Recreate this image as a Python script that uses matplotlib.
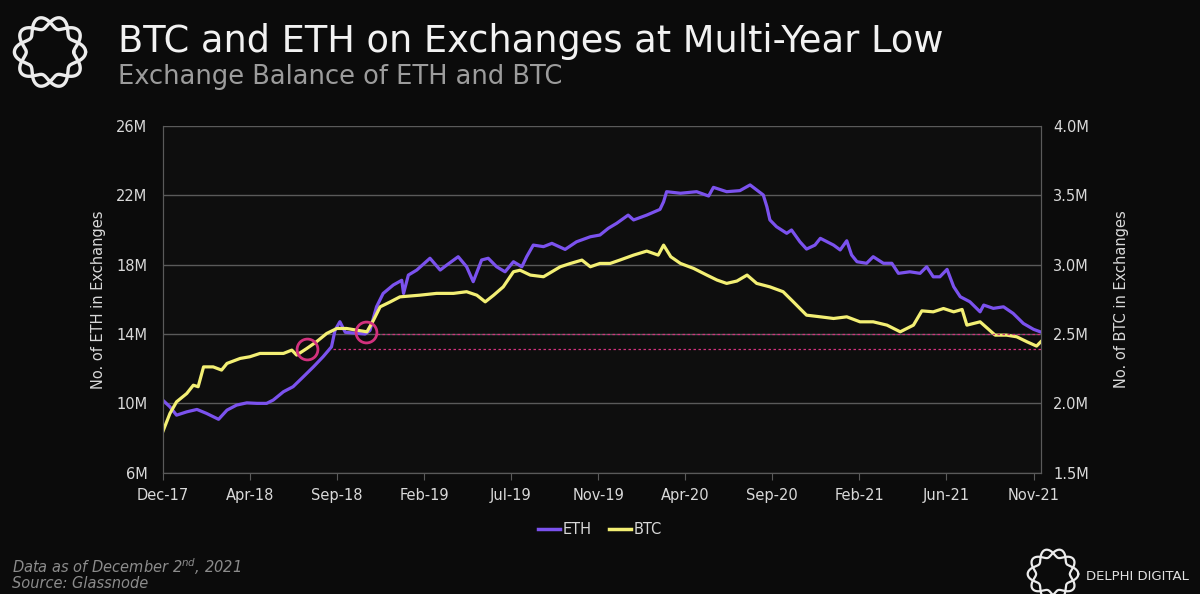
import numpy as np
import matplotlib
matplotlib.use("Agg")
import matplotlib.pyplot as plt
from matplotlib.lines import Line2D

# ---- data ----
# days since 1 Dec 2017
eth_days = [0, 12, 23, 40, 57, 73, 93, 107, 123, 140, 157, 173, 184, 201, 217, 234,
            251, 267, 281, 287, 295, 304, 320, 337, 345, 356, 367, 384, 398, 401,
            409, 423, 445, 462, 473, 492, 506, 517, 531, 542, 556, 570, 584, 598,
            606, 617, 634, 648, 670, 689, 712, 728, 742, 756, 775, 784, 806, 828,
            834, 839, 862, 889, 909, 917, 939, 961, 978, 989, 1000, 1006, 1011,
            1022, 1039, 1047, 1061, 1072, 1086, 1095, 1117, 1128, 1139, 1147, 1156,
            1172, 1183, 1200, 1214, 1225, 1244, 1261, 1272, 1283, 1294, 1306, 1317,
            1328, 1344, 1361, 1367, 1383, 1400, 1416, 1433, 1450, 1461]
eth_m = [10.19, 9.80, 9.32, 9.51, 9.65, 9.42, 9.08, 9.61, 9.90, 10.03, 10.00, 10.00,
         10.19, 10.67, 10.96, 11.53, 12.11, 12.69, 13.26, 14.23, 14.71, 14.10, 14.05,
         14.00, 14.20, 15.57, 16.34, 16.83, 17.10, 16.34, 17.40, 17.69, 18.37, 17.69,
         17.98, 18.46, 17.88, 17.02, 18.27, 18.37, 17.88, 17.59, 18.17, 17.88, 18.46,
         19.13, 19.04, 19.23, 18.88, 19.32, 19.61, 19.71, 20.10, 20.39, 20.86, 20.58,
         20.86, 21.19, 21.63, 22.21, 22.12, 22.21, 21.96, 22.46, 22.21, 22.27, 22.60,
         22.31, 22.02, 21.34, 20.58, 20.19, 19.81, 20.00, 19.32, 18.90, 19.13, 19.52,
         19.13, 18.85, 19.38, 18.56, 18.17, 18.08, 18.46, 18.08, 18.08, 17.50, 17.59,
         17.50, 17.88, 17.30, 17.30, 17.73, 16.73, 16.15, 15.86, 15.28, 15.67, 15.48,
         15.57, 15.19, 14.61, 14.27, 14.13]

btc_days = [0, 12, 23, 40, 51, 59, 68, 84, 98, 107, 129, 145, 162, 184, 201, 215, 223,
            240, 256, 273, 290, 306, 323, 340, 351, 362, 379, 395, 428, 456, 484, 506,
            523, 537, 551, 567, 584, 595, 612, 634, 662, 679, 698, 712, 728, 745, 761,
            784, 806, 825, 834, 846, 862, 884, 906, 923, 939, 956, 973, 989, 1011,
            1033, 1050, 1072, 1095, 1117, 1139, 1161, 1183, 1206, 1228, 1250, 1264,
            1283, 1300, 1317, 1331, 1339, 1361, 1386, 1405, 1422, 1439, 1455, 1462]
btc_m = [1.794, 1.927, 2.011, 2.071, 2.131, 2.120, 2.263, 2.263, 2.240, 2.288, 2.324,
         2.336, 2.360, 2.360, 2.360, 2.384, 2.348, 2.396, 2.444, 2.504, 2.540, 2.540,
         2.528, 2.516, 2.600, 2.696, 2.732, 2.768, 2.780, 2.793, 2.793, 2.805, 2.780,
         2.732, 2.780, 2.840, 2.949, 2.960, 2.925, 2.913, 2.985, 3.009, 3.033, 2.985,
         3.009, 3.009, 3.033, 3.069, 3.098, 3.069, 3.141, 3.057, 3.009, 2.973, 2.925,
         2.889, 2.865, 2.882, 2.925, 2.865, 2.840, 2.805, 2.732, 2.636, 2.624, 2.612,
         2.624, 2.588, 2.588, 2.564, 2.516, 2.564, 2.667, 2.660, 2.684, 2.660, 2.677,
         2.564, 2.588, 2.492, 2.492, 2.480, 2.444, 2.413, 2.444]

x_tick_days = [0, 145, 290, 435, 580, 725, 870, 1015, 1160, 1305, 1450]
x_tick_labels = ["Dec-17", "Apr-18", "Sep-18", "Feb-19", "Jul-19", "Nov-19",
                 "Apr-20", "Sep-20", "Feb-21", "Jun-21", "Nov-21"]
eth_ticks = [6, 10, 14, 18, 22, 26]
btc_ticks = [1.5, 2.0, 2.5, 3.0, 3.5, 4.0]

# highlighted crossings and the reference levels (BTC axis units)
highlight_days = [240, 338]
highlight_btc = [2.391, 2.514]
level_btc = [2.5, 2.393]
level_start_days = [356, 284]

BG = "#0b0b0b"
TXT = "#d9d9d9"
GRID = "#5a5a5a"
ETH_C = "#7b52ee"
BTC_C = "#f3ef74"
PINK = "#d2317e"


def draw_logo(fig, rect, lw):
    """Braided ring mark: two wavy bands woven round a circle."""
    lax = fig.add_axes(rect)
    lax.set_aspect("equal")
    lax.axis("off")
    th = np.linspace(0, 2 * np.pi, 800)
    for ph in (0, np.pi):
        r = 1 + 0.2 * np.sin(5 * th + ph + np.pi / 2)
        lax.plot(r * np.cos(th), r * np.sin(th), color="#ececec", lw=lw,
                 solid_capstyle="round")
    lax.set_xlim(-1.28, 1.28)
    lax.set_ylim(-1.28, 1.28)


fig = plt.figure(figsize=(12, 5.94), dpi=100, facecolor=BG)

ax = fig.add_axes([0.1356, 0.2042, 0.7317, 0.5837])
ax.set_facecolor("#0e0e0e")
ax2 = ax.twinx()

ax.plot(eth_days, eth_m, color=ETH_C, lw=2.3)
ax2.plot(btc_days, btc_m, color=BTC_C, lw=2.3)

for lv, xs in zip(level_btc, level_start_days):
    ax2.hlines(lv, xs, 1462, colors=PINK, lw=0.9, linestyles=(0, (2, 2)), zorder=4)
ax2.plot(highlight_days, highlight_btc, "o", ms=15, mfc="none", mec=PINK, mew=2, zorder=5)

ax.set_xlim(0, 1462)
ax.set_ylim(6, 26)
ax2.set_ylim(1.5, 4.0)

ax.set_xticks(x_tick_days)
ax.set_xticklabels(x_tick_labels)
ax.set_yticks(eth_ticks)
ax.set_yticklabels([f"{v}M" for v in eth_ticks])
ax2.set_yticks(btc_ticks)
ax2.set_yticklabels([f"{v:.1f}M" for v in btc_ticks])

ax.yaxis.grid(True, color=GRID, lw=1)
ax.set_axisbelow(True)

for a in (ax, ax2):
    for s in a.spines.values():
        s.set_color(GRID)
    a.spines["top"].set_visible(False)
    a.tick_params(colors=TXT, labelsize=10.5)
ax.tick_params(axis="y", length=0, pad=11)
ax2.tick_params(axis="y", length=0, pad=9)
ax.tick_params(axis="x", color=GRID, length=5, pad=6)

ax.set_ylabel("No. of ETH in Exchanges", color=TXT, fontsize=10.5, labelpad=7)
ax2.set_ylabel("No. of BTC in Exchanges", color=TXT, fontsize=10.5, rotation=90, labelpad=18)

handles = [Line2D([], [], color=ETH_C, lw=2.5), Line2D([], [], color=BTC_C, lw=2.5)]
fig.legend(handles, ["ETH", "BTC"], loc="center", bbox_to_anchor=(0.5, 1 - 530 / 594),
           ncol=2, frameon=False, fontsize=10.5, labelcolor=TXT, handlelength=1.5,
           handletextpad=0.2, columnspacing=1.2)

fig.text(118 / 1200, 1 - 41 / 594, "BTC and ETH on Exchanges at Multi-Year Low",
         color="#f2f2f2", fontsize=26.5, va="center")
fig.text(118 / 1200, 1 - 77 / 594, "Exchange Balance of ETH and BTC",
         color="#9c9c9c", fontsize=18.5, va="center")

fig.text(12 / 1200, 1 - 567 / 594, r"Data as of December 2$^{\mathit{nd}}$, 2021",
         color="#8c8c8c", fontsize=10.5, style="italic", va="center")
fig.text(12 / 1200, 1 - 583 / 594, "Source: Glassnode",
         color="#8c8c8c", fontsize=10.5, style="italic", va="center")
fig.text(1086 / 1200, 1 - 577 / 594, "DELPHI DIGITAL", color="#e0e0e0",
         fontsize=9.5, va="center")

draw_logo(fig, [12 / 1200, 1 - 90 / 594, 76 / 1200, 76 / 594], 2.4)
draw_logo(fig, [1026 / 1200, 1 - 602 / 594, 54 / 1200, 56 / 594], 1.6)

fig.savefig("out.png", dpi=100, facecolor=BG)
